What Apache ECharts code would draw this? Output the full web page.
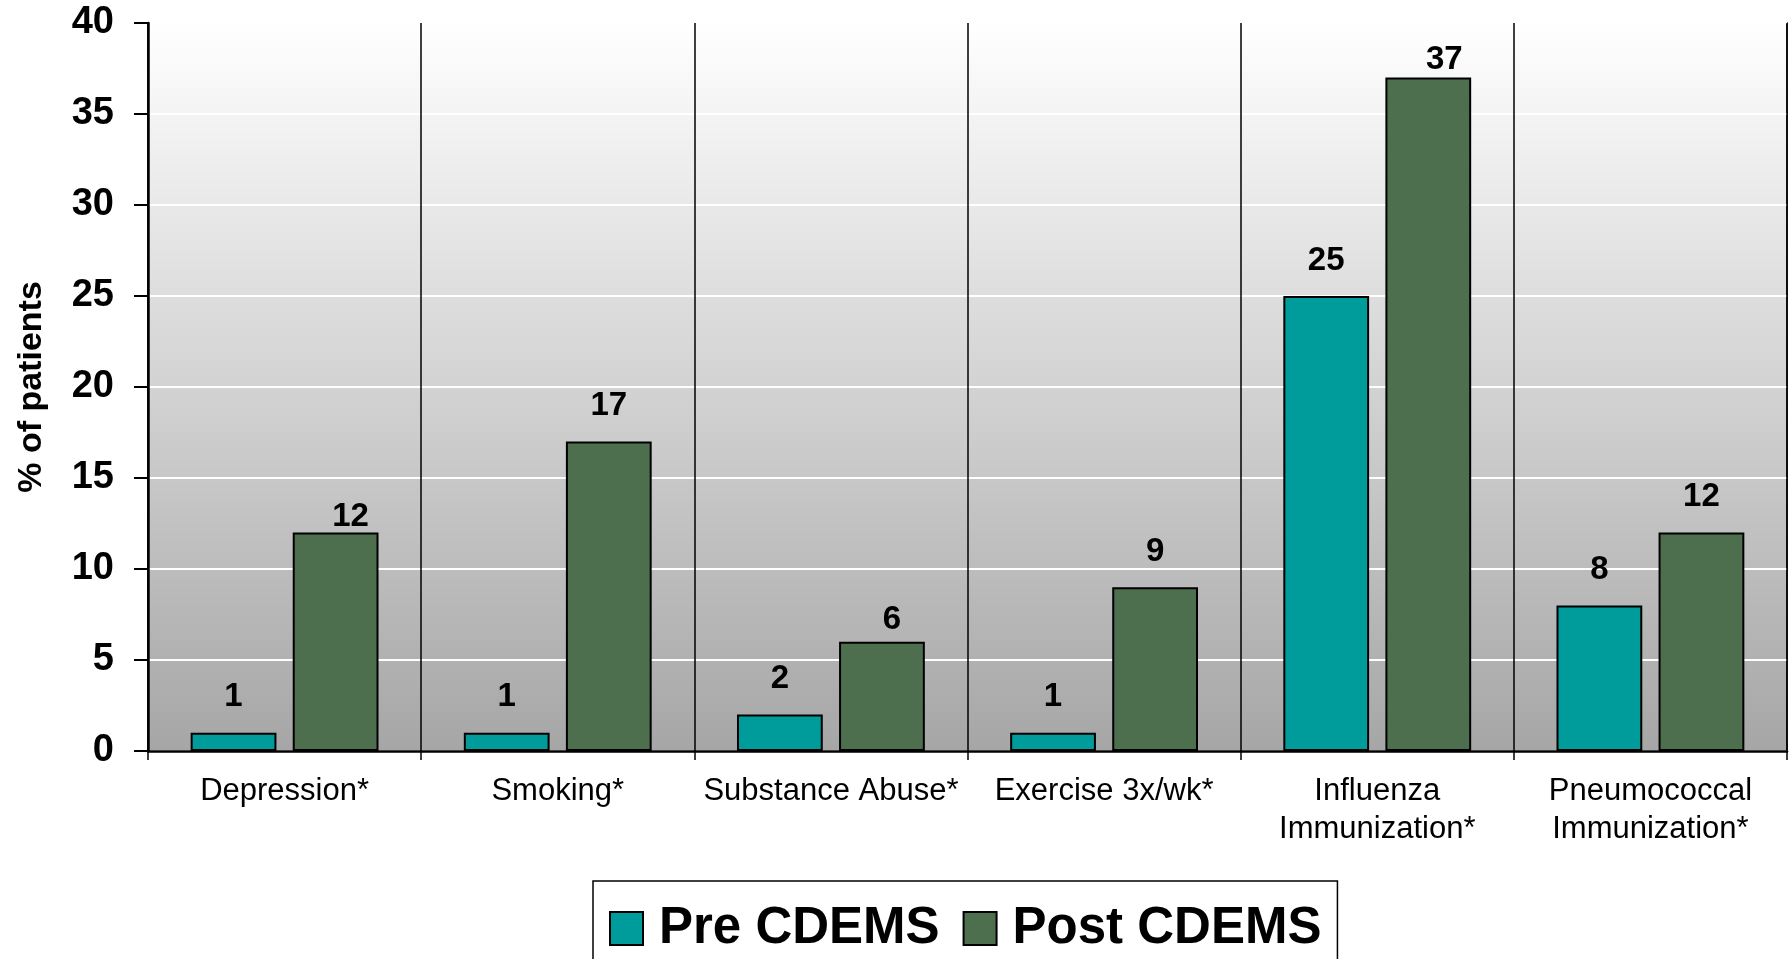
<!DOCTYPE html>
<html>
<head>
<meta charset="utf-8">
<title>CDEMS bar chart</title>
<script src="https://cdn.jsdelivr.net/npm/echarts@6/dist/echarts.min.js"></script>
<style>
  html, body { margin: 0; padding: 0; background: #fff; }
  #chart { width: 1791px; height: 959px; }
</style>
</head>
<body>
<div id="chart"></div>
<script>
  // categories (line breaks as in the original)
  var categories = [
    'Depression*',
    'Smoking*',
    'Substance Abuse*',
    'Exercise 3x/wk*',
    'Influenza\nImmunization*',
    'Pneumococcal\nImmunization*'
  ]
  var seriesNames = ['Pre CDEMS', 'Post CDEMS']
  var preValues = [1, 1, 2, 1, 25, 8]
  var postValues = [12, 17, 6, 9, 37, 12]

  var fontFam = '"Liberation Sans", Arial, sans-serif'
  var myChart = echarts.init(document.getElementById('chart'))

  var labelStyle = {
    show: true,
    position: 'top',
    distance: 19,
    color: '#000',
    fontSize: 33,
    fontWeight: 'bold',
    fontFamily: fontFam
  }

  // a few Post labels were dragged by hand in the original: [dx, dy]
  var postLabelNudge = { 0: [15, 20], 2: [10, 14], 4: [16, 18] }
  var postData = postValues.map(function (v, i) {
    if (!postLabelNudge[i]) return v
    return { value: v, label: { offset: postLabelNudge[i] } }
  })

  var option = {
    animation: false,
    textStyle: { fontFamily: fontFam },
    grid: {
      left: 148,
      right: 4,
      top: 23,
      bottom: 208,
      show: true,
      borderColor: '#000',
      borderWidth: 1.5,
      //背景渐变
      backgroundColor: new echarts.graphic.LinearGradient(0, 0, 0, 1, [
        { offset: 0, color: '#ffffff' },
        { offset: 1, color: '#a6a6a6' }
      ])
    },
    legend: {
      data: seriesNames,
      left: 593,
      top: 881,
      orient: 'horizontal',
      padding: [22, 16, 40, 16],
      borderColor: '#000',
      borderWidth: 1.5,
      backgroundColor: '#fff',
      itemWidth: 33,
      itemHeight: 33,
      itemGap: 23,
      icon: 'rect',
      itemStyle: { borderColor: '#000', borderWidth: 2 },
      textStyle: {
        color: '#000',
        fontSize: 51,
        fontWeight: 'bold',
        fontFamily: fontFam,
        padding: [0, 0, 0, 11]
      }
    },
    xAxis: {
      type: 'category',
      data: categories,
      axisLine: { show: true, lineStyle: { color: '#000', width: 2.5 } },
      axisTick: { show: true, length: 9, lineStyle: { color: '#000', width: 1.5 } },
      splitLine: { show: true, lineStyle: { color: '#000', width: 1.5 } },
      axisLabel: {
        color: '#000',
        fontSize: 31,
        fontFamily: fontFam,
        lineHeight: 38,
        margin: 21,
        verticalAlign: 'top',
        interval: 0
      }
    },
    yAxis: {
      type: 'value',
      min: 0,
      max: 40,
      interval: 5,
      name: '% of patients',
      nameLocation: 'middle',
      nameGap: 99,
      nameRotate: 90,
      nameTextStyle: {
        color: '#000',
        fontSize: 34,
        fontWeight: 'bold',
        fontFamily: fontFam
      },
      axisLine: { show: true, lineStyle: { color: '#000', width: 2.5 } },
      axisTick: { show: true, length: 14, lineStyle: { color: '#000', width: 2 } },
      splitLine: { show: true, lineStyle: { color: '#ffffff', width: 2 } },
      axisLabel: {
        color: '#000',
        fontSize: 38,
        fontWeight: 'bold',
        fontFamily: fontFam,
        margin: 34
      }
    },
    series: [{
      name: seriesNames[0],
      type: 'bar',
      data: preValues,
      barWidth: '31.4%',
      barGap: '19%',
      itemStyle: { color: '#009b9b', borderColor: '#000', borderWidth: 2 },
      label: labelStyle
    }, {
      name: seriesNames[1],
      type: 'bar',
      data: postData,
      barWidth: '31.4%',
      barGap: '19%',
      itemStyle: { color: '#4e6f4e', borderColor: '#000', borderWidth: 2 },
      label: labelStyle
    }]
  }
  myChart.setOption(option)
</script>
</body>
</html>
